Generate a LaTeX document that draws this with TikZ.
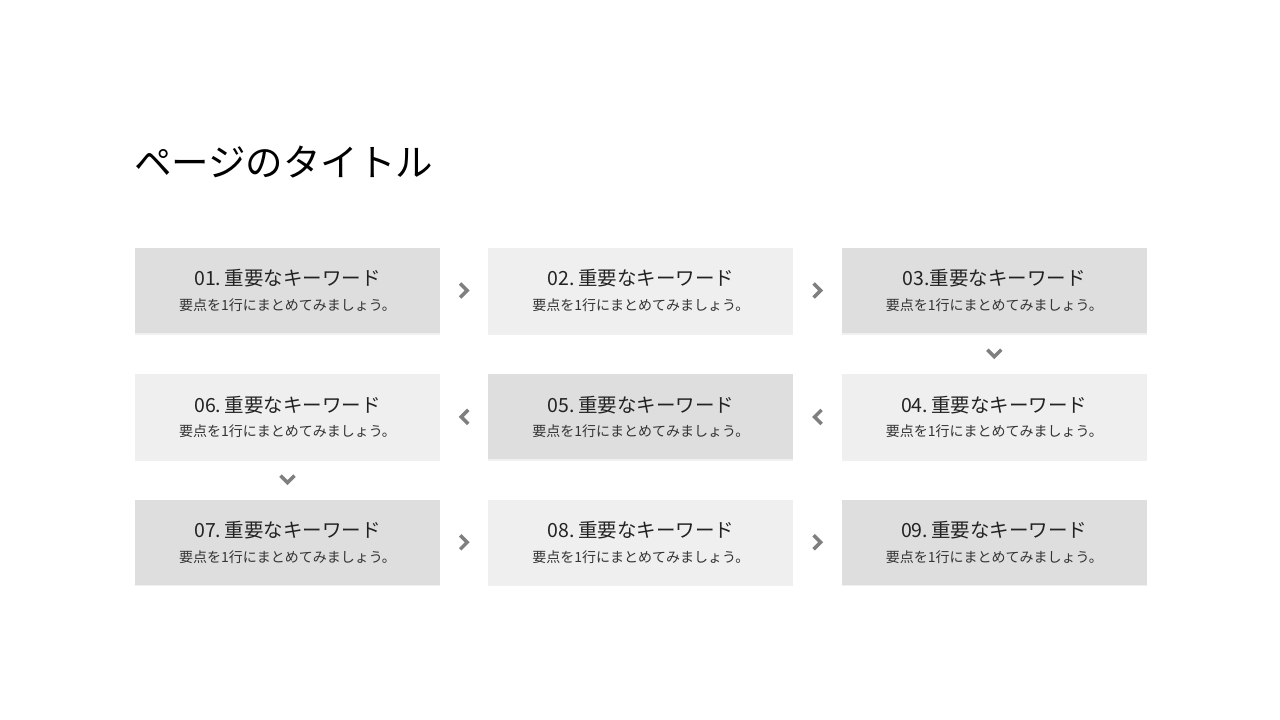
\documentclass[tikz,border=0pt]{standalone}
\usepackage{fontspec}
\setmainfont{Noto Sans CJK JP}
\usetikzlibrary{positioning,calc,shadows}
\definecolor{boxdark}{HTML}{DEDEDE}
\definecolor{boxlight}{HTML}{EFEFEF}
\definecolor{chevgray}{HTML}{7F7F7F}

\begin{document}
\begin{tikzpicture}[x=1pt,y=-1pt]
% Page size
\useasboundingbox (0,0) rectangle (1280,720);

\tikzset{
% Two box styles for the steps: dark and light
step box/.style={rectangle,minimum width=305pt,minimum height=85pt,inner sep=0pt,align=center,
  drop shadow={opacity=0.12,shadow xshift=0pt,shadow yshift=-1.5pt}},
dark box/.style={step box,fill=boxdark},
light box/.style={step box,fill=boxlight},
chevron/.style={draw=chevgray,line width=3.5pt,line join=miter}
}
\newcommand{\steptext}[1]{{\fontsize{19.5}{24}\selectfont\color[HTML]{222222}#1.\,重要なキーワード}\\[10pt]
  {\fontsize{14}{16}\selectfont\color[HTML]{333333}要点を1行にまとめてみましょう。}}

% Title
\node[anchor=base west,inner sep=0pt,font=\fontsize{37.5}{44}\selectfont] (title) at (134,176) {ページのタイトル};

% The boxes, row by row
\node(1)[dark box] at (287.5,290.5) {\steptext{01}};
\node(2)[light box,right=48pt of 1] {\steptext{02}};
\node(3)[dark box,right=48pt of 2] {{\fontsize{19.5}{24}\selectfont\color[HTML]{222222}03.重要なキーワード}\\[10pt]
  {\fontsize{14}{16}\selectfont\color[HTML]{333333}要点を1行にまとめてみましょう。}};
\node(6)[light box,below=41pt of 1] {\steptext{06}};
\node(5)[dark box,right=48pt of 6] {\steptext{05}};
\node(4)[light box,right=48pt of 5] {\steptext{04}};
\node(7)[dark box,below=40pt of 6] {\steptext{07}};
\node(8)[light box,right=48pt of 7] {\steptext{08}};
\node(9)[dark box,right=48pt of 8] {\steptext{09}};

% Chevrons between the boxes
\foreach \a/\b in {1/2,2/3,7/8,8/9}
  \draw[chevron] ($(\a.east)!0.5!(\b.west)$) +(-4,-7) -- +(3,0) -- +(-4,7);
\foreach \a/\b in {4/5,5/6}
  \draw[chevron] ($(\a.west)!0.5!(\b.east)$) +(4,-7) -- +(-3,0) -- +(4,7);
\foreach \a/\b in {3/4,6/7}
  \draw[chevron] ($(\a.south)!0.5!(\b.north)$) +(-7,-4) -- +(0,3) -- +(7,-4);

\end{tikzpicture}
\end{document}
